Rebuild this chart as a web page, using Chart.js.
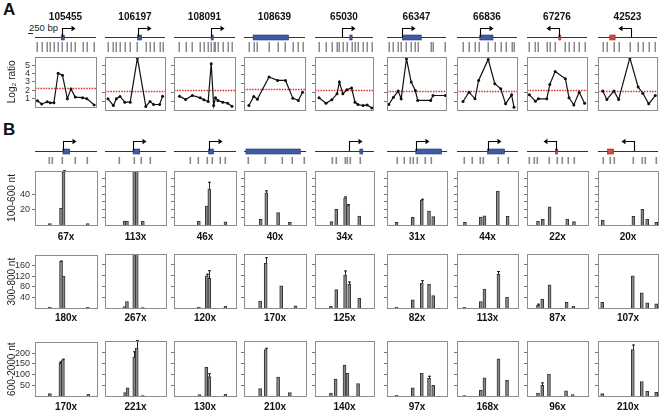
<!DOCTYPE html>
<html>
<head>
<meta charset="utf-8">
<script src="https://cdn.jsdelivr.net/npm/chart.js@4.4.1/dist/chart.umd.min.js"></script>
<style>
body{margin:0;background:#fff;width:661px;height:412px;position:relative;overflow:hidden;font-family:"Liberation Sans",Arial,sans-serif}
canvas{position:absolute}
.letter{position:absolute;font-weight:bold;font-size:17px;color:#111}
#bp{position:absolute;left:29px;top:22px;font-size:9.5px;color:#222}
#bar{position:absolute;left:28px;top:33px;width:5px;border-top:1px solid #222}
</style>
</head>
<body>
<div class="letter" style="left:3px;top:0px">A</div>
<div class="letter" style="left:3px;top:120px">B</div>
<div id="bp">250 bp</div><div id="bar"></div>
<script>
// ---- data ----
const geneIds = ['105455','106197','108091','108639','65030','66347','66836','67276','42523']
const geneKind = ['c','c','c','c','c','c','c','nc','nc']   // coding (blue) / non-coding (red)

// panel A: probe positions (% of window) and log2 ratios
const ratioPos = [
    [4,11,20,25,31,38,45,53,59,66,78,85,97],
    [5,14,19,25,33,42,54,68,75,81,91,96],
    [9,19,30,43,49,56,61,65,68,72,80,88,95],
    [8,16,22,41,55,68,80,89,96],
    [7,19,29,38,42,48,55,63,69,74,83,90,98],
    [3,11,19,24,33,41,48,52,74,78,99],
    [10,20,30,36,52,63,73,81,91,95],
    [4,14,19,33,38,47,64,70,78,87,96],
    [8,15,27,35,54,68,76,86,97]
]
const ratioVal = [
    [0.7,0.32,0.58,0.47,0.47,4.03,3.8,0.96,2.14,1.15,1.08,0.96,0.2],
    [1.27,0.5,1.27,1.53,0.89,0.89,5.9,0.4,0.96,0.62,0.62,1.57],
    [1.57,1.19,1.64,1.38,1.15,0.96,5.24,0.5,1.38,1.08,0.89,0.77,0.43],
    [0.5,1.53,1.23,3.73,3.35,3.35,1.34,1.08,2.0],
    [1.38,0.77,1.15,1.83,3.16,1.83,2.29,2.5,0.89,0.62,0.5,0.58,0.24],
    [0.62,1.45,2.14,1.27,5.8,3.16,2.2,1.08,1.08,1.64,1.64],
    [0.96,2.02,1.27,3.35,5.73,2.97,2.4,0.7,1.72,0.32],
    [1.72,1.0,1.27,1.27,2.9,4.37,3.54,1.38,0.58,2.02,0.77],
    [2.14,1.19,2.14,1.19,5.9,2.6,1.9,0.7,1.64]
]
const cutoff = [2.29,2.14,2.25,2.33,2.29,2.14,2.2,2.29,2.2]

// gene features: start, end, tss (null = none), strand
const aGeneStart = [43,54,61,15,60,26,38,53,20]
const aGeneEnd   = [48,61,62,73,64,58,60,55,29]
const aTss       = [45,55,61,null,46,26,38,54,56]
const bGeneStart = [45,46,56,3,76,48,50,47,16]
const bGeneEnd   = [56,57,64,91,81,91,78,49,26]
const bTss       = [45,46,56,null,57,48,50,48,60]
const strand     = [1,1,1,1,1,1,1,-1,-1]
const bProbes = [
    [22,28,44,64,84],
    [23,47,59,73],
    [25,39,54,62,74,83],
    [7,34,61,78,97],
    [29,35,51,55,59,76],
    [16,28,39,43,50,63,74],
    [11,25,37,43,67,84],
    [4,12,17,36,49,58,67,77],
    [8,20,27,59,73,78,96]
]

// panel B: fragment size classes
const sizeLabels = ['100-600 nt','300-800 nt','600-2000 nt']
const yMax = [70,200,250]
const coverage = [
    ['67x','113x','46x','40x','34x','31x','44x','22x','20x'],
    ['180x','267x','120x','170x','125x','82x','113x','87x','107x'],
    ['170x','221x','130x','210x','140x','97x','168x','96x','210x']
]
const fragPos = [
    [[24,42,46,85],[32,36,48,52,62],[40,53,57,83],[27,36,55,74],[28,36,51,56,75],[16,43,58,70,77],[13,39,45,67,83],[18,26,37,66,77],[8,59,74,82,97]],
    [[24,42,46,85],[32,36,48,52,62],[40,53,57,83],[26,35,60,83],[27,36,51,58,75],[16,43,58,70,77],[12,39,45,68,82],[18,25,37,65,76],[7,58,73,82,97]],
    [[24,41,45,86],[33,37,48,52,62],[41,52,57,83],[26,35,55,74],[27,35,50,55,73],[16,43,58,70,77],[12,39,45,68,82],[18,25,36,64,75],[7,58,73,82,97]]
]
const fragVal = [
    [[2,21.5,69,1.7],[5,5,80,80,5],[5,24.5,47,4],[7.3,41.7,16,3.4],[4.3,20.2,35.3,25.8,11.6],[3.4,10,32.3,18,10.8],[3.4,10.3,12,43.9,11.2],[5.2,7.3,23.7,7.7,4.3],[6.5,11.2,20.2,7.7,3.4]],
    [[3.6,177,121,2.4],[4.8,24,220,220,1.2],[3.6,119,110,6],[25.5,165,82,8.5],[6,68,122,88.5,36],[3.6,30,92,88.5,46],[2.4,24,70,125,40],[10,33,86,20.6,6],[20.6,119,56,19.4,15.8]],
    [[10.8,152,169,7.7],[15.4,37,177,218,1.5],[6,131,88,7.7],[34,211,86,15.4],[13.8,77,140,103,57],[3,37,103,80,49],[1.5,26,83,169,72],[13.8,49,100,23,6],[10.8,211,65,21.5,17]]
]
const fragErr = [
    [[null,null,71,null],[],[null,null,56,null],[null,45,null,null],[null,null,37,27,null],[null,null,34,null,null],[],[],[]],
    [[null,180,null,null],[],[null,127,140,null],[null,188,null,null],[null,null,139,98,null],[null,null,103,null,null],[null,null,null,137,null],[16],[]],
    [[null,161,174,null],[null,null,203,254,null],[null,null,103,null],[null,219,null,null],[],[null,null,null,92,null],[],[null,62],[null,234]]
]

// ---- layout ----
const boxLeft = [35,105,174,244,315,387,457,527,598]
const boxW = [62,61,62,62,59,60,61,61,60]
const FONT = '"Liberation Sans", Arial, sans-serif'

function makeCanvas(left, top, w, h) {
    const c = document.createElement('canvas')
    c.width = w; c.height = h
    c.style.left = left + 'px'; c.style.top = top + 'px'
    document.body.appendChild(c)
    return c
}

function drawGene(ctx, xs, baseY, start, end, tss, dir, kind, armH) {
    ctx.save()
    ctx.strokeStyle = '#333'; ctx.lineWidth = 1
    ctx.beginPath(); ctx.moveTo(xs.left, baseY + 0.5); ctx.lineTo(xs.right, baseY + 0.5); ctx.stroke()
    const g0 = xs.getPixelForValue(start), g1 = xs.getPixelForValue(end)
    ctx.fillStyle = kind == 'nc' ? '#d8483c' : '#3e5ba6'
    ctx.fillRect(g0, baseY - 2, Math.max(g1 - g0, 2), 5)
    ctx.strokeStyle = kind == 'nc' ? '#8a2a22' : '#26396e'; ctx.lineWidth = 0.6
    ctx.strokeRect(g0, baseY - 2, Math.max(g1 - g0, 2), 5)
    if (tss !== null) {
        const tx = Math.round(xs.getPixelForValue(tss)) + 0.5
        const ty = baseY - armH + 0.5
        const ex = tx + dir * 9
        ctx.strokeStyle = '#000'; ctx.lineWidth = 1.1
        ctx.beginPath(); ctx.moveTo(tx, baseY); ctx.lineTo(tx, ty); ctx.lineTo(ex, ty); ctx.stroke()
        ctx.fillStyle = '#000'
        ctx.beginPath(); ctx.moveTo(ex + dir * 4, ty); ctx.lineTo(ex, ty - 2.8); ctx.lineTo(ex, ty + 2.8); ctx.closePath(); ctx.fill()
    }
    ctx.restore()
}

function drawFrame(ctx, a) {
    ctx.save()
    ctx.strokeStyle = '#8c8c8c'; ctx.lineWidth = 1
    ctx.strokeRect(Math.round(a.left) + 0.5, Math.round(a.top) + 0.5, Math.round(a.right - a.left), Math.round(a.bottom - a.top))
    ctx.restore()
}

function yScale(i, max, step, title) {
    const w = i == 0 ? 35 : 5
    return {
        min: 0, max: max,
        afterFit: s => { s.width = w },
        afterBuildTicks: s => { s.ticks = s.ticks.filter(t => t.value > 0 && t.value < max) },
        ticks: { display: i == 0, autoSkip: false, stepSize: step, font: { family: FONT, size: 9 }, color: '#333', padding: 2 },
        grid: { drawOnChartArea: false, drawTicks: true, tickLength: 3, color: '#777' },
        border: { display: false },
        title: { display: i == 0, text: title, font: { family: FONT, size: 10 }, color: '#222', padding: { top: 6, bottom: 0 } }
    }
}

// ---- panel A ----
geneIds.forEach((id, i) => {
    const w = i == 0 ? 35 : 5
    const c = makeCanvas(boxLeft[i] - w, 0, w + boxW[i] + 3, 114)
    new Chart(c, {
        type: 'line',
        data: { datasets: [{
            data: ratioPos[i].map((p, k) => ({ x: p, y: ratioVal[i][k] })),
            borderColor: '#111', borderWidth: 1.2,
            pointRadius: 1.5, pointBackgroundColor: '#111', pointBorderWidth: 0,
            tension: 0
        }] },
        options: {
            responsive: false, animation: false, devicePixelRatio: 1,
            layout: { padding: { top: 57, bottom: 3, left: 0, right: 3 } },
            plugins: { legend: { display: false }, tooltip: { enabled: false } },
            scales: {
                x: { type: 'linear', min: 0, max: 100, display: false },
                y: yScale(i, 6, 1, 'Log\u2082 ratio')
            }
        },
        plugins: [{
            id: 'panelA',
            beforeDatasetsDraw(chart) {
                const ctx = chart.ctx, a = chart.chartArea
                const y = Math.round(chart.scales.y.getPixelForValue(cutoff[i])) + 0.5
                ctx.save()
                ctx.strokeStyle = '#d9312a'; ctx.lineWidth = 1.3; ctx.setLineDash([1.5, 1.2])
                ctx.beginPath(); ctx.moveTo(a.left, y); ctx.lineTo(a.right, y); ctx.stroke()
                ctx.restore()
            },
            afterDraw(chart) {
                const ctx = chart.ctx, a = chart.chartArea, xs = chart.scales.x
                drawFrame(ctx, a)
                ctx.save()
                ctx.fillStyle = '#111'; ctx.font = 'bold 10px ' + FONT
                ctx.textAlign = 'center'; ctx.textBaseline = 'middle'
                ctx.fillText(id, (a.left + a.right) / 2, 17)
                ctx.fillStyle = '#8a8a8a'
                ratioPos[i].forEach(p => ctx.fillRect(Math.round(xs.getPixelForValue(p)) - 0.5, a.top - 15, 1.5, 10))
                ctx.restore()
                drawGene(ctx, xs, a.top - 20, aGeneStart[i], aGeneEnd[i], aTss[i], strand[i], geneKind[i], 9)
            }
        }]
    })
})

// ---- panel B ----
const rowTop = [130, 248, 335]
const padTop = [41, 6, 6]
const rowH = [115, 80, 77]
const padBottom = [20, 20, 16]
const labelGap = [12, 10, 11]
const steps = [[20, 10], [40, 40], [50, 50]]

sizeLabels.forEach((lab, r) => {
    geneIds.forEach((id, i) => {
        const w = i == 0 ? 35 : 5
        const c = makeCanvas(boxLeft[i] - w, rowTop[r], w + boxW[i] + 3, rowH[r])
        const errs = fragErr[r][i]
        new Chart(c, {
            type: 'bar',
            data: { datasets: [{
                data: fragPos[r][i].map((p, k) => ({ x: p, y: fragVal[r][i][k] })),
                backgroundColor: '#8a8a8a', borderColor: '#333', borderWidth: 1,
                barThickness: 3, borderSkipped: 'bottom', clip: 0
            }] },
            options: {
                responsive: false, animation: false, devicePixelRatio: 1,
                layout: { padding: { top: padTop[r], bottom: padBottom[r], left: 0, right: 3 } },
                plugins: { legend: { display: false }, tooltip: { enabled: false } },
                scales: {
                    x: { type: 'linear', min: 0, max: 100, offset: false, display: false },
                    y: yScale(i, yMax[r], steps[r][i == 0 ? 0 : 1], lab)
                }
            },
            plugins: [{
                id: 'panelB',
                afterDatasetsDraw(chart) {
                    const ctx = chart.ctx, a = chart.chartArea
                    const xs = chart.scales.x, ys = chart.scales.y
                    ctx.save()
                    ctx.beginPath(); ctx.rect(a.left, a.top - 2, a.right - a.left, a.bottom - a.top + 2); ctx.clip()
                    ctx.strokeStyle = '#222'; ctx.lineWidth = 1
                    errs.forEach((e, k) => {
                        if (e == null) return
                        const x = Math.round(xs.getPixelForValue(fragPos[r][i][k])) + 0.5
                        const y0 = ys.getPixelForValue(fragVal[r][i][k]), y1 = ys.getPixelForValue(e)
                        ctx.beginPath(); ctx.moveTo(x, y0); ctx.lineTo(x, y1)
                        ctx.moveTo(x - 1.5, y1 + 0.5); ctx.lineTo(x + 1.5, y1 + 0.5); ctx.stroke()
                    })
                    ctx.restore()
                },
                afterDraw(chart) {
                    const ctx = chart.ctx, a = chart.chartArea, xs = chart.scales.x
                    drawFrame(ctx, a)
                    ctx.save()
                    ctx.fillStyle = '#111'; ctx.font = 'bold 10px ' + FONT
                    ctx.textAlign = 'center'; ctx.textBaseline = 'middle'
                    ctx.fillText(coverage[r][i], (a.left + a.right) / 2, a.bottom + labelGap[r])
                    ctx.restore()
                    if (r == 0) {
                        ctx.save()
                        ctx.fillStyle = '#8a8a8a'
                        bProbes[i].forEach(p => ctx.fillRect(Math.round(xs.getPixelForValue(p)) - 0.5, a.top - 14, 1.6, 7))
                        ctx.restore()
                        drawGene(ctx, xs, a.top - 20, bGeneStart[i], bGeneEnd[i], bTss[i], strand[i], geneKind[i], 10)
                    }
                }
            }]
        })
    })
})
</script>
</body>
</html>
